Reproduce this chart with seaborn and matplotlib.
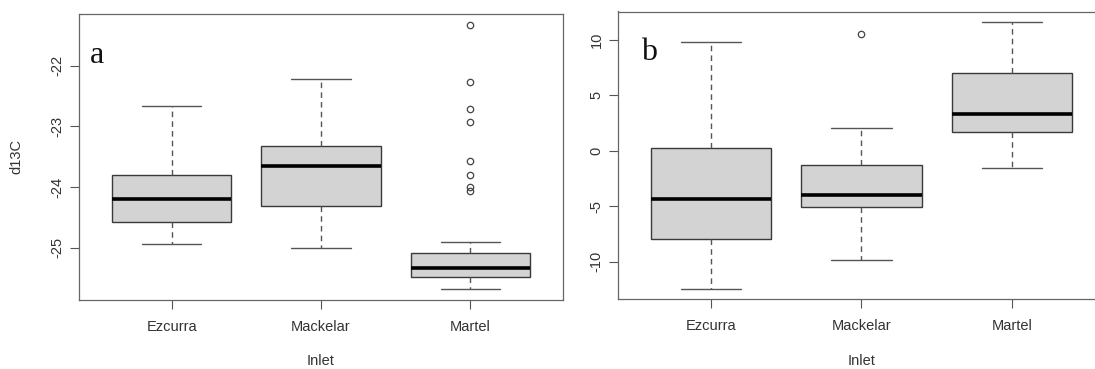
import pandas as pd
import seaborn as sns
import matplotlib.pyplot as plt

# === Data ===
inlets = ["Ezcurra", "Mackelar", "Martel"]

# panel a: d13C
ezcurra_a = [-24.94, -24.75, -24.58, -24.37, -24.19, -24.02, -23.81, -23.20, -22.67]
mackelar_a = [-25.01, -24.60, -24.32, -23.95, -23.65, -23.50, -23.33, -22.80, -22.22]
martel_a = [-25.69, -25.62, -25.60, -25.58, -25.55, -25.53, -25.52, -25.50, -25.49, -25.48,
            -25.46, -25.45, -25.43, -25.41, -25.40, -25.38, -25.37, -25.35, -25.34,
            -25.31, -25.28, -25.25, -25.22, -25.19, -25.16, -25.14, -25.11, -25.09, -24.91,
            -24.07, -24.00, -23.81, -23.57, -22.93, -22.71, -22.27, -21.32]

# panel b
ezcurra_b = [-12.44, -9.80, -7.94, -6.10, -4.33, -2.00, 0.27, 5.10, 9.85]
mackelar_b = [-9.85, -7.00, -5.11, -4.40, -3.97, -2.60, -1.30, 2.03, 10.54]
martel_b = [-1.56, 0.40, 1.73, 2.60, 3.35, 5.20, 7.00, 9.10, 11.60]

yticks_a = [-25, -24, -23, -22]
yticks_b = [-10, -5, 0, 5, 10]


def long_form(groups):
    rows = []
    for name, vals in zip(inlets, groups):
        rows += [(name, v) for v in vals]
    return pd.DataFrame(rows, columns=["Inlet", "value"])


df_a = long_form([ezcurra_a, mackelar_a, martel_a])
df_b = long_form([ezcurra_b, mackelar_b, martel_b])

sns.set_style("ticks")
plt.rcParams["font.family"] = ["Liberation Sans", "DejaVu Sans"]

fig = plt.figure(figsize=(10.95, 3.69), dpi=100)
ax_a = fig.add_axes([79 / 1095, 69 / 369, 484 / 1095, 286 / 369])
ax_b = fig.add_axes([618 / 1095, 69.7 / 369, 487 / 1095, 287.8 / 369])

box_kw = dict(
    x="Inlet", y="value", order=inlets, width=0.8, whis=1.5,
    color="#D3D3D3", saturation=1, linecolor="#3a3a3a", linewidth=1.0,
    whiskerprops={"linestyle": (0, (4, 3)), "color": "#555555"},
    capprops={"color": "#555555"},
    medianprops={"color": "black", "linewidth": 2.6},
    flierprops={"marker": "o", "markerfacecolor": "none",
                "markeredgecolor": "#444444", "markersize": 4.6,
                "markeredgewidth": 0.9},
)

for ax, df, ticks, letter, lx in [(ax_a, df_a, yticks_a, "a", 0.022),
                                  (ax_b, df_b, yticks_b, "b", 0.047)]:
    sns.boxplot(data=df, ax=ax, **box_kw)
    lo, hi = df["value"].min(), df["value"].max()
    pad = (hi - lo) * 0.04
    ax.set_ylim(lo - pad, hi + pad)
    ax.set_xlim(-0.62, 2.62)
    ax.set_yticks(ticks)
    ax.set_yticklabels([str(t) for t in ticks], rotation=90, va="center")
    ax.tick_params(axis="both", direction="out", length=6.5, width=0.8,
                   color="#555555", labelsize=10.5, labelcolor="#333333",
                   bottom=True, left=True)
    ax.tick_params(axis="x", pad=8)
    ax.tick_params(axis="y", pad=4)
    for s in ax.spines.values():
        s.set_visible(True)
        s.set_color("#666666")
        s.set_linewidth(0.9)
    ax.set_xlabel("Inlet", fontsize=10.5, color="#333333")
    ax.xaxis.set_label_coords(0.5, -0.19)
    ax.text(lx, 0.83, letter, transform=ax.transAxes, fontsize=23,
            family="Liberation Serif", va="baseline", ha="left", color="#111111")

ax_a.set_ylabel("d13C", fontsize=10.5, color="#333333")
ax_a.yaxis.set_label_coords(-0.114, 0.5)
ax_b.set_ylabel("")

fig.savefig("out.png", dpi=100)
